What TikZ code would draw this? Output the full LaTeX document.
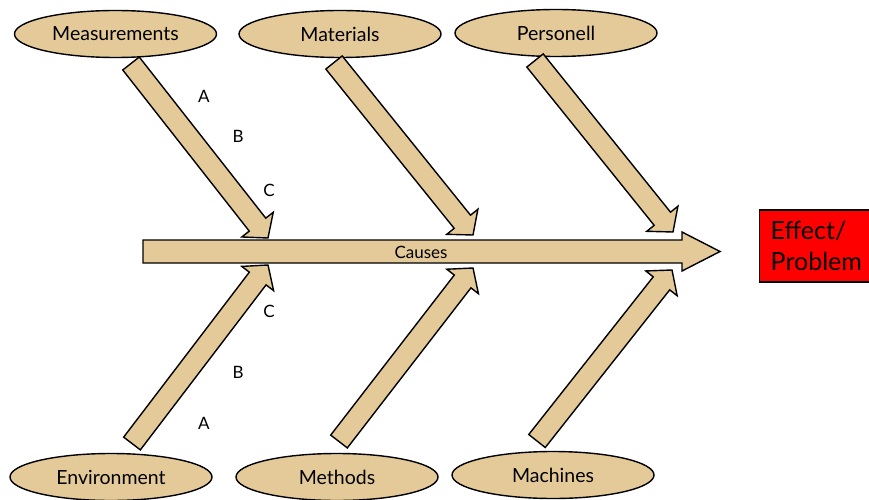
\documentclass[tikz,border=0pt]{standalone}
\usepackage{fontspec}
\setmainfont{Lato}
\usetikzlibrary{calc,shapes.geometric}
\definecolor{tan1}{RGB}{228,202,152}
\tikzset{
  cat/.style={ellipse, draw=black, line width=1.4pt, fill=tan1, minimum width=202pt, minimum height=47pt, inner sep=0pt, font=\fontsize{19.5}{22}\selectfont},
  fat/.style={draw=black, line width=1.4pt, fill=tan1, line join=miter},
  lbl/.style={font=\fontsize{17}{19}\selectfont, inner sep=0pt},
  effectbox/.style={draw=black, line width=1.4pt, fill=red, anchor=west, minimum width=124pt, minimum height=72pt, align=left, inner xsep=11pt, text width=105pt, font=\fontsize{25}{31}\selectfont}
}
\newcommand\fatarrow[2]{%
  \coordinate (hb) at ($(#2)!17pt!(#1)$);
  \draw[fat] ($(#1)!10.5pt!90:(#2)$) -- ($(hb)!10.5pt!90:(#2)$) -- ($(hb)!20pt!90:(#2)$) -- (#2)
    -- ($(hb)!20pt!-90:(#2)$) -- ($(hb)!10.5pt!-90:(#2)$) -- ($(#1)!10.5pt!-90:(#2)$) -- cycle;
}
\begin{document}
\begin{tikzpicture}[x=1pt,y=-1pt]
\useasboundingbox (0,0) rectangle (869,500);
% categories
\node[cat] (meas) at (115.5,34) {Measurements};
\node[cat] (mat)  at (340,34) {Materials};
\node[cat] (pers) at (556,33) {Personell};
\node[cat] (env)  at (111,477) {Environment};
\node[cat] (meth) at (337,477) {Methods};
\node[cat] (mach) at (553,475) {Machines};
% spine
\coordinate (spineL) at (143,251.5);
\coordinate (spineR) at (720,251.5);
\draw[fat] (143,240) -- (682,240) -- (682,232) -- (spineR) -- (682,271) -- (682,263) -- (143,263) -- cycle;
\node[lbl] (causes) at (421,252) {Causes};
% effect
\node[effectbox] (effect) at (759,246) {Effect/\\Problem};
% branch arrows
\coordinate (t1) at (131,63.5);  \coordinate (p1) at (268,238);
\coordinate (t2) at (334,62.5);  \coordinate (p2) at (473,235);
\coordinate (t3) at (535,60.5);  \coordinate (p3) at (673,232);
\coordinate (t4) at (132,443.5); \coordinate (p4) at (268,265);
\coordinate (t5) at (339,441.5); \coordinate (p5) at (473,268);
\coordinate (t6) at (537,441);   \coordinate (p6) at (672,270);
\fatarrow{t1}{p1}
\fatarrow{t2}{p2}
\fatarrow{t3}{p3}
\fatarrow{t4}{p4}
\fatarrow{t5}{p5}
\fatarrow{t6}{p6}
% sub labels
\node[lbl] (a1) at (204,96) {A};
\node[lbl] (b1) at (238,136) {B};
\node[lbl] (c1) at (269,190) {C};
\node[lbl] (c2) at (269,311) {C};
\node[lbl] (b2) at (238,372) {B};
\node[lbl] (a2) at (204,423) {A};
\end{tikzpicture}
\end{document}
